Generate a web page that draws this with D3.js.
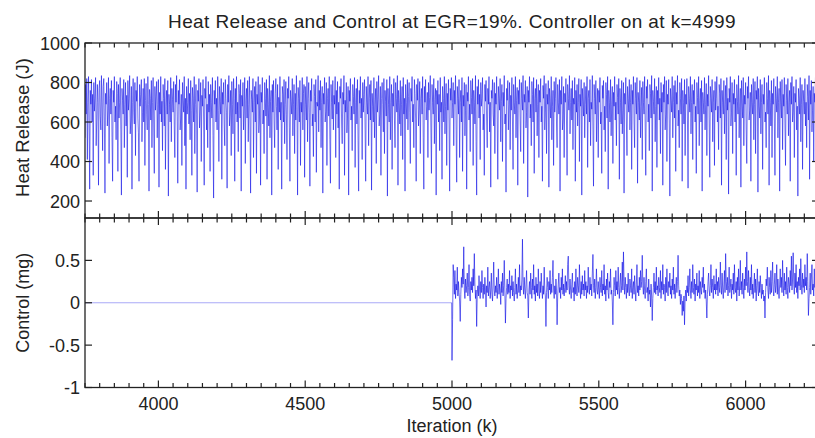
<!DOCTYPE html>
<html>
<head>
<meta charset="utf-8">
<script src="https://cdn.jsdelivr.net/npm/d3@7"></script>
<style>
  body { margin: 0; background: #fff; }
  text { font-family: "Liberation Sans", Arial, sans-serif; fill: #222; }
</style>
</head>
<body>
<script>
// iterations shown on the x axis
const iterStart = 3750;
const iterEnd = 6250;
const heatStep = 2;       // heat release sampled every 2 iterations
const controllerOnK = 4999;
const controlStart = 5000;
const controlStep = 2;

const xTicks = [4000, 4500, 5000, 5500, 6000];
const heatTicks = [200, 400, 600, 800, 1000];
const controlTicks = [-1, -0.5, 0, 0.5];

// heat release (J), k = 3750, 3752, ... 6250  (25 values = 50 iterations per row)
const heatRelease = [
  520, 790, 640, 820, 410, 700, 830, 580, 260, 760, 690, 815, 600, 740, 330, 800, 655, 720, 825, 480, 610, 790, 700, 280, 770,
  810, 630, 560, 835, 700, 455, 780, 820, 610, 240, 745, 690, 800, 580, 660, 825, 390, 720, 770, 640, 810, 520, 300, 760, 700,
  830, 600, 680, 510, 805, 745, 350, 790, 620, 700, 825, 560, 230, 770, 710, 640, 815, 470, 690, 800, 580, 735, 320, 810, 660,
  720, 835, 540, 610, 780, 260, 700, 820, 650, 590, 800, 430, 760, 705, 830, 620, 545, 300, 790, 680, 740, 815, 500, 650, 770,
  600, 820, 380, 710, 795, 640, 560, 830, 690, 250, 765, 720, 610, 810, 470, 700, 825, 585, 340, 780, 660, 730, 805, 520, 690,
  815, 270, 750, 640, 830, 600, 705, 455, 790, 720, 580, 820, 360, 680, 760, 640, 810, 225, 740, 690, 600, 825, 500, 770, 715,
  650, 805, 580, 420, 790, 700, 835, 630, 290, 760, 690, 815, 560, 620, 740, 380, 800, 710, 650, 830, 480, 720, 260, 780, 640,
  700, 820, 590, 745, 510, 810, 660, 330, 775, 720, 600, 830, 440, 690, 790, 640, 245, 760, 705, 820, 570, 655, 800, 400, 735,
  680, 815, 610, 280, 770, 720, 830, 560, 690, 470, 805, 650, 740, 350, 790, 700, 620, 825, 530, 215, 760, 690, 810, 600, 720,
  560, 830, 660, 400, 780, 705, 640, 820, 310, 750, 690, 800, 590, 480, 815, 720, 650, 265, 790, 700, 835, 580, 640, 760, 430,
  805, 690, 540, 820, 720, 300, 770, 640, 830, 600, 700, 450, 790, 745, 620, 815, 250, 735, 680, 800, 560, 660, 825, 390, 710,
  770, 620, 810, 500, 690, 830, 580, 240, 760, 715, 650, 820, 420, 700, 780, 600, 805, 340, 740, 690, 830, 545, 615, 790, 280,
  750, 700, 825, 590, 660, 440, 800, 720, 630, 815, 310, 770, 690, 580, 835, 520, 705, 760, 230, 790, 650, 810, 600, 470, 745,
  820, 680, 560, 790, 360, 725, 650, 830, 610, 700, 260, 780, 740, 600, 815, 490, 690, 805, 640, 410, 770, 720, 830, 570, 300,
  760, 705, 640, 820, 530, 690, 790, 440, 745, 610, 835, 680, 230, 775, 720, 600, 810, 380, 700, 650, 825, 560, 745, 790, 320,
  780, 690, 610, 830, 500, 720, 800, 650, 275, 760, 705, 820, 580, 640, 425, 790, 730, 600, 815, 345, 700, 680, 835, 550, 760,
  660, 810, 470, 700, 780, 240, 745, 690, 825, 600, 655, 800, 380, 720, 770, 630, 830, 510, 290, 790, 700, 615, 810, 560, 735,
  690, 830, 420, 760, 640, 805, 570, 700, 260, 780, 720, 820, 600, 490, 750, 690, 835, 330, 710, 650, 800, 545, 620, 780, 230,
  760, 705, 820, 610, 680, 455, 790, 730, 640, 825, 370, 700, 770, 590, 815, 505, 250, 760, 695, 830, 620, 720, 410, 800, 650,
  740, 815, 560, 300, 780, 700, 640, 830, 480, 720, 790, 610, 810, 255, 745, 680, 600, 825, 520, 690, 770, 390, 805, 650, 715,
  835, 580, 640, 780, 330, 720, 800, 690, 550, 820, 440, 760, 705, 630, 815, 225, 770, 690, 600, 830, 510, 700, 790, 360, 745,
  680, 820, 610, 470, 800, 720, 650, 835, 280, 760, 700, 590, 810, 530, 690, 780, 410, 825, 640, 720, 250, 790, 700, 615, 815,
  560, 730, 800, 650, 390, 770, 705, 830, 600, 690, 470, 815, 745, 620, 300, 790, 710, 820, 580, 660, 805, 440, 720, 770, 640,
  830, 520, 260, 780, 700, 815, 610, 680, 750, 420, 800, 660, 725, 835, 570, 340, 790, 700, 640, 820, 490, 715, 770, 230, 760,
  690, 810, 600, 740, 455, 825, 650, 700, 310, 780, 720, 600, 830, 540, 680, 795, 380, 745, 660, 815, 590, 250, 770, 710, 825,
  620, 700, 800, 480, 760, 690, 835, 560, 295, 780, 720, 640, 815, 420, 700, 760, 600, 825, 350, 735, 680, 800, 530, 660, 790,
  260, 750, 705, 830, 610, 690, 450, 810, 725, 640, 820, 380, 760, 700, 590, 835, 500, 230, 780, 690, 815, 620, 740, 410, 800,
  680, 720, 825, 560, 640, 330, 790, 705, 810, 600, 470, 770, 690, 830, 550, 700, 270, 760, 720, 815, 640, 580, 800, 440, 745,
  690, 830, 610, 310, 780, 720, 660, 820, 500, 705, 790, 400, 750, 680, 835, 590, 640, 245, 770, 710, 810, 560, 690, 800, 460,
  735, 660, 825, 600, 360, 790, 700, 640, 830, 520, 710, 775, 280, 760, 690, 815, 610, 450, 800, 720, 660, 835, 390, 740, 700,
  810, 570, 650, 780, 220, 760, 700, 830, 620, 690, 480, 805, 740, 600, 825, 340, 720, 770, 650, 815, 530, 690, 790, 420, 760,
  700, 820, 600, 680, 300, 785, 720, 835, 560, 650, 795, 440, 740, 690, 810, 270, 770, 705, 620, 830, 510, 680, 760, 380, 805,
  650, 720, 825, 590, 470, 790, 700, 640, 815, 250, 760, 690, 830, 560, 610, 780, 420, 745, 700, 820, 600, 330, 790, 720, 660,
  835, 540, 700, 770, 610, 810, 460, 720, 690, 825, 300, 760, 650, 790, 580, 700, 820, 400, 740, 680, 815, 230, 770, 705, 630,
  800, 520, 690, 780, 640, 830, 370, 720, 760, 600, 815, 480, 700, 665, 835, 560, 275, 790, 720, 640, 810, 500, 690, 770, 420,
  760, 700, 825, 590, 650, 340, 785, 720, 810, 560, 680, 450, 800, 740, 620, 830, 260, 760, 700, 600, 815, 530, 690, 780, 390,
  750, 680, 830, 610, 700, 480, 790, 725, 640, 820, 310, 770, 700, 590, 810, 540, 660, 800, 240, 745, 690, 825, 600, 430, 780,
  720, 650, 815, 560, 700, 790, 360, 760, 690, 830, 600, 470, 800, 720, 640, 825, 290, 750, 700, 610, 810, 520, 680, 775, 410,
  805, 700, 640, 830, 570, 330, 780, 720, 815, 600, 690, 455, 790, 745, 620, 835, 250, 760, 705, 640, 820, 500, 680, 780, 370,
  760, 690, 825, 610, 720, 440, 800, 650, 750, 280, 790, 700, 830, 560, 640, 810, 400, 740, 690, 815, 590, 225, 770, 710, 650,
  830, 520, 700, 785, 620, 810, 350, 750, 690, 835, 580, 660, 470, 800, 720, 640, 820, 300, 760, 700, 590, 815, 430, 740, 690,
  820, 610, 265, 780, 720, 650, 830, 540, 700, 790, 410, 760, 690, 815, 600, 680, 340, 800, 725, 640, 830, 480, 710, 770, 600,
  810, 250, 750, 700, 640, 825, 560, 690, 795, 430, 740, 680, 835, 590, 320, 780, 720, 650, 815, 500, 700, 760, 380, 805, 660,
  720, 830, 600, 680, 460, 790, 745, 620, 820, 280, 760, 700, 640, 810, 540, 690, 785, 410, 825, 660, 720, 235, 770, 700, 830,
  580, 650, 800, 440, 745, 690, 815, 600, 720, 330, 790, 705, 640, 835, 520, 680, 770, 270, 810, 700, 620, 825, 480, 735, 690,
  800, 560, 390, 780, 720, 830, 610, 660, 750, 300, 790, 700, 640, 820, 510, 690, 805, 440, 760, 715, 830, 245, 770, 680, 620,
  815, 540, 700, 790, 360, 740, 690, 825, 600, 650, 470, 800, 720, 640, 835, 280, 760, 700, 580, 810, 420, 745, 690, 820, 600,
  330, 780, 720, 650, 830, 520, 700, 770, 250, 805, 690, 620, 815, 460, 740, 680, 825, 590, 380, 790, 710, 640, 820, 530, 700,
  760, 300, 800, 690, 830, 600, 650, 780, 420, 745, 700, 815, 560, 680, 225, 770, 720, 640, 825, 500, 690, 790, 360, 760, 705,
  640, 820, 580, 700, 470, 790, 730, 610, 835, 310, 760, 690, 810, 550, 660, 780, 400, 745, 700, 825, 600, 280, 770, 690, 820,
  600
];

// control (mg) after the controller switches on, k = 5000, 5002, ... 6248
const controlOn = [
  -0.68, -0.20, 0.45, 0.30, 0.10, 0.38, 0.05, 0.22, 0.15, 0.42, 0.08, 0.25, 0.12, 0.02, -0.22, 0.10, 0.30, 0.18, 0.40, 0.22, 0.66, 0.15, 0.05, 0.28, 0.12,
  0.20, 0.35, 0.08, 0.18, 0.45, 0.10, 0.02, 0.25, 0.15, 0.30, 0.12, 0.40, 0.20, 0.58, 0.22, 0.05, 0.15, -0.28, 0.10, 0.20, 0.08, 0.32, 0.15, 0.05, 0.25,
  0.12, 0.38, 0.18, 0.05, 0.22, 0.10, 0.30, 0.15, -0.05, 0.20, 0.12, 0.42, 0.08, 0.18, 0.25, 0.05, 0.15, 0.35, 0.10, 0.02, 0.22, 0.48, 0.15, 0.08, 0.20,
  0.12, 0.30, 0.05, 0.18, 0.40, 0.10, 0.22, 0.15, -0.02, 0.25, 0.12, 0.35, 0.08, 0.20, 0.50, 0.15, -0.24, 0.05, 0.18, 0.28, 0.10, 0.22, 0.12, 0.38, 0.05,
  0.20, 0.15, 0.32, 0.08, 0.25, 0.12, 0.02, 0.18, 0.40, 0.10, 0.22, 0.05, 0.15, 0.30, 0.12, 0.45, 0.08, 0.20, 0.15, 0.28, 0.75, 0.20, 0.10, 0.30, 0.15,
  0.05, 0.22, 0.38, 0.12, 0.08, -0.18, 0.15, 0.25, 0.10, 0.35, 0.18, 0.05, 0.28, 0.15, 0.45, 0.10, 0.20, 0.02, 0.30, 0.12, 0.22, 0.08, 0.40, 0.15, 0.05,
  0.25, 0.12, 0.35, 0.18, 0.05, 0.20, 0.10, 0.42, 0.15, 0.08, -0.28, 0.12, 0.30, 0.18, 0.05, 0.25, 0.15, 0.38, 0.10, 0.22, 0.12, 0.30, 0.50, 0.15, 0.05,
  0.20, 0.10, 0.28, 0.15, -0.26, 0.08, 0.22, 0.35, 0.12, 0.18, 0.05, 0.30, 0.15, 0.40, 0.10, 0.22, 0.08, 0.18, 0.32, 0.12, 0.25, 0.15, 0.45, 0.55, 0.20,
  0.10, 0.28, 0.15, 0.05, 0.22, 0.35, 0.12, 0.18, 0.02, 0.25, 0.10, 0.40, 0.15, 0.08, 0.30, 0.20, 0.12, 0.45, 0.18, 0.05, 0.25, 0.10, 0.32, 0.15, 0.22,
  0.08, 0.38, 0.15, 0.25, 0.05, 0.20, 0.12, 0.42, 0.18, 0.10, 0.30, 0.15, 0.22, 0.08, 0.35, 0.57, 0.20, 0.12, 0.28, 0.05, 0.18, 0.40, 0.15, 0.10, 0.25,
  0.15, 0.05, 0.30, 0.18, 0.12, 0.38, 0.08, 0.22, 0.15, 0.45, 0.10, 0.20, 0.02, 0.28, 0.15, 0.35, 0.12, 0.05, 0.25, 0.18, 0.40, 0.10, 0.15, 0.02, -0.26,
  0.12, 0.30, 0.20, 0.08, 0.38, 0.15, 0.25, 0.10, 0.42, 0.18, 0.05, 0.22, 0.35, 0.12, 0.20, 0.48, 0.15, 0.60, 0.25, 0.10, 0.30, 0.18, 0.05, 0.22, 0.12,
  0.35, 0.15, 0.08, 0.28, 0.20, 0.12, 0.40, 0.05, 0.18, 0.25, 0.10, 0.32, 0.15, 0.02, 0.22, 0.45, 0.12, 0.20, 0.08, 0.30, 0.15, 0.38, 0.18, 0.25, 0.56,
  0.20, 0.10, 0.30, 0.15, 0.05, 0.25, 0.40, 0.12, 0.18, 0.02, 0.28, 0.10, 0.15, -0.05, 0.22, 0.08, -0.21, 0.05, 0.18, 0.35, 0.12, 0.25, 0.10, 0.42, 0.15,
  0.20, 0.08, 0.30, 0.18, 0.12, 0.38, 0.05, 0.25, 0.15, 0.45, 0.10, 0.22, 0.18, 0.02, 0.30, 0.12, 0.40, 0.15, 0.08, 0.25, 0.18, 0.35, 0.10, 0.20, 0.05,
  0.28, 0.15, 0.42, 0.10, 0.22, 0.05, 0.18, 0.30, 0.12, 0.25, 0.56, 0.20, 0.08, 0.15, -0.02, 0.10, 0.05, -0.15, 0.02, -0.10, 0.08, -0.26, 0.05, 0.15, 0.02,
  0.20, 0.12, 0.32, 0.08, 0.18, 0.40, 0.15, 0.05, 0.25, 0.12, 0.45, 0.18, 0.10, 0.28, 0.02, 0.22, 0.15, 0.35, 0.08, 0.20, 0.12, 0.38, 0.05, 0.25, 0.15,
  0.10, 0.30, 0.18, 0.42, 0.12, 0.22, 0.05, 0.15, 0.02, -0.18, 0.10, 0.25, 0.35, 0.15, 0.08, 0.20, 0.45, 0.12, 0.28, 0.18, 0.05, 0.32, 0.15, 0.22, 0.10,
  0.40, 0.15, 0.25, 0.08, 0.30, 0.18, 0.12, 0.48, 0.20, 0.10, 0.35, 0.15, 0.05, 0.22, 0.38, 0.12, 0.58, 0.25, 0.15, 0.30, 0.08, 0.20, 0.42, 0.12, 0.18,
  0.28, 0.05, 0.22, 0.15, 0.35, 0.10, 0.45, 0.18, 0.12, 0.25, 0.02, 0.30, 0.15, 0.40, 0.08, 0.20, 0.50, 0.15, 0.25, 0.10, 0.35, 0.18, 0.05, 0.28, 0.15,
  0.42, 0.20, 0.60, 0.25, 0.12, 0.38, 0.18, 0.08, 0.30, 0.15, 0.45, 0.10, 0.22, 0.05, 0.18, 0.35, 0.12, 0.28, 0.02, 0.20, 0.40, 0.15, 0.08, 0.25, 0.12,
  0.32, 0.18, 0.05, 0.22, 0.10, 0.15, 0.02, 0.08, -0.18, 0.12, 0.28, 0.20, 0.42, 0.15, 0.05, 0.30, 0.18, 0.10, 0.38, 0.12, 0.25, 0.48, 0.15, 0.08, 0.22,
  0.35, 0.12, 0.20, 0.45, 0.10, 0.28, 0.15, 0.05, 0.22, 0.40, 0.18, 0.30, 0.12, 0.50, 0.20, 0.08, 0.35, 0.15, 0.25, 0.10, 0.42, 0.18, 0.05, 0.30, 0.22,
  0.12, 0.38, 0.20, 0.55, 0.15, 0.28, 0.59, 0.22, 0.10, 0.35, 0.18, 0.45, 0.12, 0.25, 0.05, 0.30, 0.20, 0.40, 0.15, 0.52, 0.22, 0.10, 0.35, 0.18, 0.28,
  0.12, 0.45, 0.20, 0.30, 0.15, 0.58, 0.25, -0.15, 0.05, 0.18, 0.35, 0.10, 0.28, 0.45, 0.15, 0.22, 0.08, 0.40, 0.18, 0.30, 0.12, 0.25, 0.50, 0.15, 0.20
];

const width = 815;
const height = 438;

// plot box edges (right edge falls just outside the picture)
const left = 85, right = 819;
const topY = 43, midY = 218, bottomY = 387.5;

const svg = d3.select("body")
  .append("svg")
  .attr("width", width)
  .attr("height", height);

const x = d3.scaleLinear().domain([iterStart, iterEnd]).range([left, right]);
const yHeat = d3.scaleLinear().domain([114, 1000]).range([midY, topY]);
const yCtrl = d3.scaleLinear().domain([-1, 1]).range([bottomY, midY]);

// turn arrays into points
const heatPts = heatRelease.map((v, i) => [iterStart + i * heatStep, v]);
const ctrlPts = [[iterStart, 0], [controllerOnK, 0]]
  .concat(controlOn.map((v, i) => [controlStart + i * controlStep, v]));

svg.append("clipPath").attr("id", "clipTop")
  .append("rect").attr("x", left).attr("y", topY).attr("width", right - left).attr("height", midY - topY);
svg.append("clipPath").attr("id", "clipBot")
  .append("rect").attr("x", left).attr("y", midY).attr("width", right - left).attr("height", bottomY - midY);

// each step is its own segment so that overlapping strokes build up darker,
// like the dense trace in the original figure
const traceColor = "#0a0ae6";

svg.append("g")
  .attr("clip-path", "url(#clipTop)")
  .selectAll("line")
  .data(d3.pairs(heatPts))
  .enter()
  .append("line")
  .attr("x1", d => x(d[0][0])).attr("y1", d => yHeat(d[0][1]))
  .attr("x2", d => x(d[1][0])).attr("y2", d => yHeat(d[1][1]))
  .attr("stroke", traceColor)
  .attr("stroke-width", 1.0)
  .attr("stroke-opacity", 0.55);

svg.append("g")
  .attr("clip-path", "url(#clipBot)")
  .selectAll("line")
  .data(d3.pairs(ctrlPts))
  .enter()
  .append("line")
  .attr("x1", d => x(d[0][0])).attr("y1", d => yCtrl(d[0][1]))
  .attr("x2", d => x(d[1][0])).attr("y2", d => yCtrl(d[1][1]))
  .attr("stroke", traceColor)
  .attr("stroke-width", 1.0)
  // the flat part before the controller starts reads as a faint line
  .attr("stroke-opacity", d => d[1][0] <= controllerOnK ? 0.35 : 0.6);

// axes: ticks drawn inward like matlab
const axisColor = "#222";
const majorLen = 7, minorLen = 4.5;
const minorTicks = d3.range(iterStart, iterEnd + 1, 50).filter(k => xTicks.indexOf(k) < 0);

function xTickMarks(yLine, dir) {
  // dir = +1 draws downward, -1 upward
  const g = svg.append("g");
  g.selectAll("line.maj").data(xTicks).enter().append("line")
    .attr("x1", d => x(d)).attr("x2", d => x(d))
    .attr("y1", yLine).attr("y2", yLine + dir * majorLen)
    .attr("stroke", axisColor).attr("stroke-width", 1.2);
  g.selectAll("line.min").data(minorTicks).enter().append("line")
    .attr("x1", d => x(d)).attr("x2", d => x(d))
    .attr("y1", yLine).attr("y2", yLine + dir * minorLen)
    .attr("stroke", axisColor).attr("stroke-width", 1.2);
}

xTickMarks(topY, 1);
xTickMarks(midY, -1);
xTickMarks(midY, 1);
xTickMarks(bottomY, -1);

// y ticks on both sides
function yTickMarks(scale, ticks) {
  const g = svg.append("g");
  g.selectAll("line.l").data(ticks).enter().append("line")
    .attr("x1", left).attr("x2", left + majorLen)
    .attr("y1", d => scale(d)).attr("y2", d => scale(d))
    .attr("stroke", axisColor).attr("stroke-width", 1.2);
  g.selectAll("line.r").data(ticks).enter().append("line")
    .attr("x1", right).attr("x2", right - majorLen)
    .attr("y1", d => scale(d)).attr("y2", d => scale(d))
    .attr("stroke", axisColor).attr("stroke-width", 1.2);
  g.selectAll("text").data(ticks).enter().append("text")
    .attr("x", left - 5)
    .attr("y", d => scale(d) + 6.5)
    .attr("text-anchor", "end")
    .attr("font-size", 18)
    .text(d => d);
}

yTickMarks(yHeat, heatTicks);
yTickMarks(yCtrl, controlTicks);

// boxes
svg.append("rect")
  .attr("x", left).attr("y", topY)
  .attr("width", right - left).attr("height", midY - topY)
  .attr("fill", "none").attr("stroke", axisColor).attr("stroke-width", 1.3);
svg.append("rect")
  .attr("x", left).attr("y", midY)
  .attr("width", right - left).attr("height", bottomY - midY)
  .attr("fill", "none").attr("stroke", axisColor).attr("stroke-width", 1.3);

// x tick labels
svg.append("g").selectAll("text").data(xTicks).enter().append("text")
  .attr("x", d => x(d))
  .attr("y", 410)
  .attr("text-anchor", "middle")
  .attr("font-size", 18)
  .text(d => d);

// titles
svg.append("text")
  .attr("x", (left + right) / 2)
  .attr("y", 28)
  .attr("text-anchor", "middle")
  .attr("font-size", 19)
  .attr("letter-spacing", 0.4)
  .text("Heat Release and Control at EGR=19%. Controller on at k=4999");

svg.append("text")
  .attr("x", (left + right) / 2)
  .attr("y", 432)
  .attr("text-anchor", "middle")
  .attr("font-size", 18)
  .text("Iteration (k)");

svg.append("text")
  .attr("transform", "translate(29," + ((topY + midY) / 2 - 3) + ") rotate(-90)")
  .attr("text-anchor", "middle")
  .attr("font-size", 18.5)
  .text("Heat Release (J)");

svg.append("text")
  .attr("transform", "translate(29," + ((midY + bottomY) / 2) + ") rotate(-90)")
  .attr("text-anchor", "middle")
  .attr("font-size", 18)
  .text("Control (mg)");
</script>
</body>
</html>
